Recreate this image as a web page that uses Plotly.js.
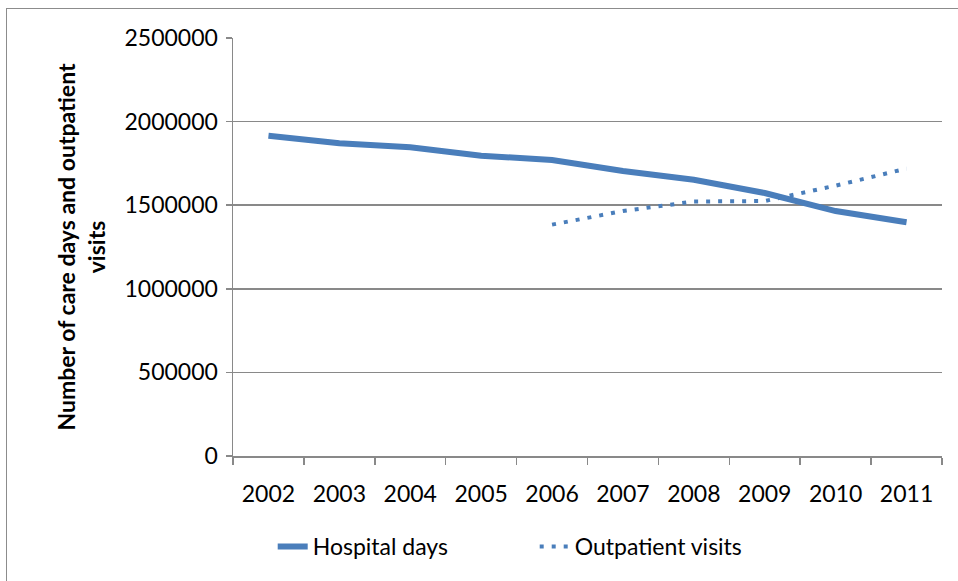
<!DOCTYPE html>
<html><head><meta charset="utf-8">
<script src="https://cdn.plot.ly/plotly-3.0.1.min.js"></script>
<style>body{margin:0;background:#fff}#wrap{position:relative;width:958px;height:581px;overflow:hidden}
#frame{position:absolute;left:6px;top:8px;width:1000px;height:1000px;border:1.5px solid #8c8c8c;pointer-events:none}</style>
</head><body><div id="wrap"><div id="chart" style="width:958px;height:581px"></div><div id="frame"></div></div>
<script>
const years = ["2002","2003","2004","2005","2006","2007","2008","2009","2010","2011"];
const hospitalDays = [1915000,1870000,1846000,1796000,1770000,1705000,1652000,1573000,1465000,1398000];
const outpatientVisits = [null,null,null,null,1384000,1465000,1522000,1525000,1617000,1719000];
const yTicks = [0,500000,1000000,1500000,2000000,2500000];
const FONT = "Lato, 'Open Sans', sans-serif";
const BLUE = "#4a7ebb";
Plotly.newPlot("chart",[
 {x:years,y:hospitalDays,type:"scatter",mode:"lines",name:"Hospital days",line:{color:BLUE,width:6}},
 {x:years,y:outpatientVisits,type:"scatter",mode:"lines",name:"Outpatient visits",line:{color:BLUE,width:4,dash:"4px,8px"}}
],{
 width:958,height:581,margin:{l:233,r:16,t:38,b:125},
 paper_bgcolor:"rgba(0,0,0,0)",plot_bgcolor:"#fff",
 font:{family:FONT,size:23,color:"#000"},
 xaxis:{type:"category",range:[-0.5,9.5],tickson:"boundaries",ticks:"outside",ticklen:7,tickcolor:"#898989",tickwidth:1.5,
   showline:true,linecolor:"#898989",linewidth:1.5,showgrid:false,ticklabelstandoff:17,tickfont:{size:23}},
 yaxis:{range:[0,2500000],tickvals:yTicks,ticktext:yTicks.map(String),ticks:"outside",ticklen:6,tickcolor:"#898989",tickwidth:1.5,
   showline:true,linecolor:"#898989",linewidth:1.5,gridcolor:"#898989",gridwidth:1.5,zeroline:false,ticklabelstandoff:3,
   tickfont:{size:23},
   title:{text:"<b>Number of care days and outpatient<br>visits</b>",font:{size:23},standoff:12}},
 showlegend:true,
 legend:{orientation:"h",x:0.056,xanchor:"left",y:-0.165,yanchor:"top",font:{size:23},entrywidth:217,bgcolor:"rgba(0,0,0,0)"}
},{displayModeBar:false,staticPlot:true});
</script></body></html>
